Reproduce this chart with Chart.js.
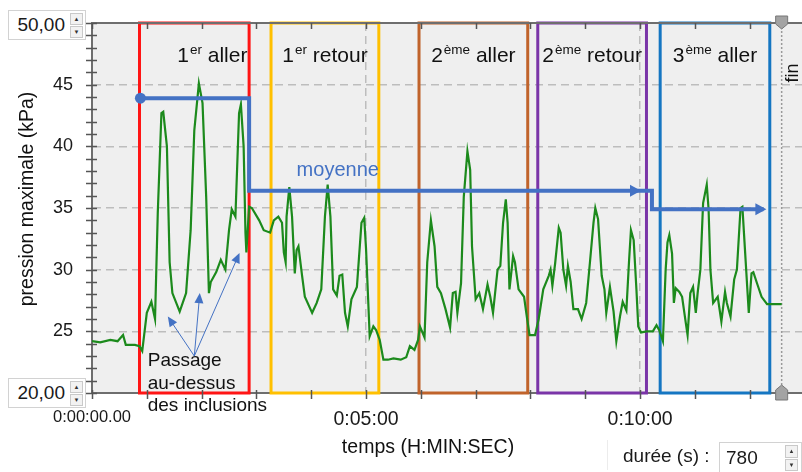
<!DOCTYPE html>
<html lang="fr">
<head>
<meta charset="utf-8">
<title>pression maximale</title>
<script src="https://cdn.jsdelivr.net/npm/chart.js@4.4.0/dist/chart.umd.min.js"></script>
<style>
html, body { margin: 0; padding: 0; background: #fff; overflow: hidden; }
#wrap { position: relative; width: 802px; height: 472px; overflow: hidden; }
#chart { position: absolute; left: 0; top: 0; }
.spin { position: absolute; height: 30px; background: #fff; border: 1px solid #d2d2d2; box-sizing: border-box;
        font: 19px 'Liberation Sans', Arial, sans-serif; color: #1a1a1a; }
.spin .val { position: absolute; right: 20px; top: 50%; transform: translateY(-50%); }
.spin .btns { position: absolute; right: 2px; top: 2px; bottom: 2px; width: 13px; display: flex; flex-direction: column; gap: 1px; }
.spin .btns div { flex: 1; background: #f2f2f2; border: 1px solid #c9c9c9; font-size: 6px; line-height: 10px; text-align: center; color: #333; }
#duree { position: absolute; left: 623px; top: 445px; font: 19px 'Liberation Sans', Arial, sans-serif; color: #1a1a1a; }
#sep { position: absolute; left: 607px; top: 440px; width: 1px; height: 30px; background: #ececec; }
</style>
</head>
<body>
<div id="wrap">
  <canvas id="chart" width="810" height="472" style="width:810px;height:472px"></canvas>
  <div class="spin" style="left:8px;top:10px;width:78px"><span class="val">50,00</span><div class="btns"><div>▲</div><div>▼</div></div></div>
  <div class="spin" style="left:8px;top:378px;width:78px"><span class="val">20,00</span><div class="btns"><div>▲</div><div>▼</div></div></div>
  <div id="sep"></div>
  <div id="duree">durée (s) :</div>
  <div class="spin" style="left:719px;top:442px;width:83px;height:32px"><span class="val" style="left:6px;right:auto">780</span><div class="btns" style="right:3px"><div>▲</div><div>▼</div></div></div>
</div>
<script>
const FONT = "'Liberation Sans', Arial, sans-serif";

// temps (s) et pression maximale (kPa)
const temps = [
  0, 9, 20, 28, 34, 37, 47, 52, 55, 60, 65, 69, 72, 76, 78, 82, 85, 88, 96, 103,
  108, 112, 117, 121, 125, 128, 130, 136, 141, 146, 150, 153, 157, 161, 163, 166, 168, 169, 172, 175,
  183, 188, 195, 199, 204, 208, 210, 212, 213, 216, 219, 222, 224, 226, 230, 233, 241, 246, 251, 255,
  258, 261, 264, 268, 271, 274, 277, 280, 284, 290, 295, 298, 300, 304, 308, 311, 315, 319, 324, 330,
  338, 344, 348, 353, 357, 359, 364, 367, 371, 375, 378, 382, 387, 392, 395, 398, 400, 404, 407, 411,
  414, 416, 420, 424, 428, 433, 436, 439, 444, 447, 450, 453, 455, 457, 461, 463, 467, 473, 476, 479,
  485, 489, 494, 500, 502, 504, 507, 511, 513, 516, 519, 521, 524, 527, 532, 536, 541, 545, 549, 551,
  554, 558, 561, 563, 567, 571, 574, 578, 581, 585, 588, 590, 593, 596, 598, 601, 607, 614, 618, 621,
  625, 628, 630, 632, 635, 637, 639, 643, 646, 650, 652, 655, 658, 661, 663, 666, 669, 673, 675, 677,
  680, 685, 689, 693, 695, 699, 703, 706, 710, 712, 715, 719, 722, 724, 728, 733, 739, 748, 755
];
const pression = [
  24.2, 24.1, 24.3, 24.2, 24.7, 23.9, 23.9, 23.8, 23.4, 26.5, 27.4, 26.0, 34.6, 42.7, 42.8, 40.0, 30.6, 28.1, 26.6, 28.1,
  33.2, 41.3, 45.1, 43.5, 35.9, 28.1, 29.0, 29.8, 30.8, 30.0, 33.2, 34.9, 34.3, 42.7, 43.4, 40.0, 33.0, 31.4, 35.1, 35.0,
  34.0, 33.2, 33.0, 34.0, 34.3, 33.8, 31.4, 30.6, 34.3, 36.7, 34.3, 29.7, 31.6, 31.9, 29.5, 27.8, 26.5, 27.3, 28.4, 34.3,
  36.9, 34.3, 28.4, 27.9, 29.5, 29.6, 26.5, 25.4, 27.6, 28.6, 33.8, 34.2, 31.7, 24.6, 25.4, 25.1, 24.3, 22.7, 22.7, 22.8,
  22.7, 22.9, 23.8, 23.5, 24.3, 25.4, 24.5, 30.6, 34.0, 31.9, 28.6, 28.1, 26.8, 25.3, 28.1, 28.2, 26.5, 28.9, 35.9, 39.6,
  38.1, 31.9, 27.6, 28.1, 26.8, 28.8, 27.8, 26.5, 30.0, 30.3, 33.8, 35.7, 33.8, 28.4, 31.1, 30.6, 28.4, 27.8, 26.2, 24.7,
  24.7, 26.0, 28.4, 29.5, 30.0, 28.7, 30.5, 33.4, 33.0, 30.0, 28.7, 30.3, 29.0, 26.8, 26.8, 26.0, 27.3, 30.5, 33.8, 35.0,
  34.1, 29.5, 28.4, 26.5, 28.6, 26.6, 24.2, 26.2, 27.4, 26.7, 30.8, 33.2, 32.4, 28.4, 25.4, 24.9, 25.0, 25.0, 25.5, 25.1,
  24.2, 30.0, 32.2, 32.8, 31.3, 27.3, 28.5, 28.2, 27.8, 25.7, 24.7, 28.1, 28.6, 26.5, 28.1, 30.0, 35.4, 36.9, 34.9, 30.0,
  27.3, 27.8, 25.8, 28.2, 27.3, 26.2, 29.2, 30.0, 35.0, 35.1, 31.4, 26.5, 29.7, 29.8, 28.9, 27.8, 27.2, 27.2, 27.2
];

// moyenne par groupe de passages
const moyenneT = [53, 172, 172, 613, 613, 735];
const moyenneP = [43.9, 43.9, 36.4, 36.4, 34.9, 34.9];
const moyenneFlecheT = 601;

// passages (cadres)
const passageDebut = [52, 196, 358, 488, 622];
const passageFin = [172, 314, 477, 607, 742];
const passageNum = ['1', '1', '2', '2', '3'];
const passageSup = ['er', 'er', 'ème', 'ème', 'ème'];
const passageNom = ['aller', 'retour', 'aller', 'retour', 'aller'];
const passageCouleur = ['#ff1414', '#ffc000', '#c0632b', '#7a35a8', '#1576c2'];

// annotation "Passage au-dessus des inclusions"
const noteOrigine = [112, 23.0];
const noteCibles = [[83, 26.2], [118, 28.1], [161.5, 31.35]];
const noteTexte = ['Passage', 'au-dessus', 'des inclusions'];
const noteAncre = [61, 22.15];

// axes
const yMin = 20, yMax = 50;
const xMin = 0, xMax = 780, xPas = 60;
const xLabelVal = [0, 300, 600];
const xLabelTxt = ['0:00:00.00', '0:05:00', '0:10:00'];
const finT = 755;
const moyenneTexte = [224, 37.6];

const BLEU = '#4472c4';

function arrowHead(ctx, x, y, ang, len, half, color) {
  ctx.save();
  ctx.translate(x, y);
  ctx.rotate(ang);
  ctx.beginPath();
  ctx.moveTo(0, 0);
  ctx.lineTo(-len, -half);
  ctx.lineTo(-len, half);
  ctx.closePath();
  ctx.fillStyle = color;
  ctx.fill();
  ctx.restore();
}

// pas de marge automatique autour de la zone de tracé
function noPadding(s) {
  s.paddingLeft = 0;
  s.paddingRight = 0;
  s.paddingTop = 0;
  s.paddingBottom = 0;
}

const decor = {
  id: 'decor',
  beforeDraw(chart) {
    const { ctx, chartArea: a } = chart;
    ctx.save();
    ctx.fillStyle = '#efefef';
    ctx.fillRect(a.left, a.top, a.right - a.left, a.bottom - a.top);
    ctx.restore();
  },
  beforeDatasetsDraw(chart) {
    const { ctx, chartArea: a, scales: { x } } = chart;
    ctx.save();
    // ligne "fin"
    const fx = x.getPixelForValue(finT);
    ctx.strokeStyle = '#9a9a9a';
    ctx.lineWidth = 1.5;
    ctx.setLineDash([2, 2]);
    ctx.beginPath();
    ctx.moveTo(fx, a.top);
    ctx.lineTo(fx, a.bottom);
    ctx.stroke();
    ctx.setLineDash([]);
    // cadres des passages
    ctx.lineWidth = 3;
    passageDebut.forEach((d, i) => {
      const x1 = x.getPixelForValue(d), x2 = x.getPixelForValue(passageFin[i]);
      ctx.strokeStyle = passageCouleur[i];
      ctx.strokeRect(x1, a.top, x2 - x1, a.bottom - a.top);
    });
    ctx.restore();
  },
  afterDatasetsDraw(chart) {
    const { ctx, chartArea: a, scales: { x, y } } = chart;
    ctx.save();
    // flèches de la moyenne
    const n = moyenneT.length - 1;
    arrowHead(ctx, x.getPixelForValue(moyenneT[n]) + 3, y.getPixelForValue(moyenneP[n]), 0, 11, 6, BLEU);
    arrowHead(ctx, x.getPixelForValue(moyenneFlecheT), y.getPixelForValue(moyenneP[2]), 0, 11, 6, BLEU);
    ctx.fillStyle = BLEU;
    ctx.font = '20px ' + FONT;
    ctx.textAlign = 'left';
    ctx.textBaseline = 'alphabetic';
    ctx.fillText('moyenne', x.getPixelForValue(moyenneTexte[0]), y.getPixelForValue(moyenneTexte[1]));

    // annotation
    const ox = x.getPixelForValue(noteOrigine[0]), oy = y.getPixelForValue(noteOrigine[1]);
    ctx.strokeStyle = BLEU;
    ctx.lineWidth = 1;
    noteCibles.forEach(([t, v]) => {
      const tx = x.getPixelForValue(t), ty = y.getPixelForValue(v);
      const ang = Math.atan2(ty - oy, tx - ox);
      ctx.beginPath();
      ctx.moveTo(ox, oy);
      ctx.lineTo(tx - 8 * Math.cos(ang), ty - 8 * Math.sin(ang));
      ctx.stroke();
      arrowHead(ctx, tx, ty, ang, 10, 4.5, BLEU);
    });
    ctx.fillStyle = '#111';
    ctx.font = '19px ' + FONT;
    const nx = x.getPixelForValue(noteAncre[0]), ny = y.getPixelForValue(noteAncre[1]);
    noteTexte.forEach((s, i) => ctx.fillText(s, nx, ny + i * 22.5));

    // titres des passages
    passageDebut.forEach((d, i) => {
      const x1 = x.getPixelForValue(d), x2 = x.getPixelForValue(passageFin[i]);
      ctx.font = '21px ' + FONT;
      const w1 = ctx.measureText(passageNum[i]).width;
      const w3 = ctx.measureText(' ' + passageNom[i]).width;
      ctx.font = '13.5px ' + FONT;
      const w2 = ctx.measureText(passageSup[i]).width + 1;
      let px = (x1 + x2) / 2 - (w1 + w2 + w3) / 2 + (i === 0 ? 18 : 0);
      const py = a.top + 39;
      ctx.fillStyle = '#111';
      ctx.font = '21px ' + FONT;
      ctx.fillText(passageNum[i], px, py);
      px += w1;
      ctx.font = '13.5px ' + FONT;
      ctx.fillText(passageSup[i], px + 1, py - 8);
      px += w2;
      ctx.font = '21px ' + FONT;
      ctx.fillText(' ' + passageNom[i], px, py);
    });
    ctx.restore();
  },
  afterDraw(chart) {
    const { ctx, chartArea: a, scales: { x, y } } = chart;
    ctx.save();
    // bord haut
    ctx.strokeStyle = '#6e6e6e';
    ctx.lineWidth = 2;
    ctx.beginPath();
    ctx.moveTo(a.left, a.top);
    ctx.lineTo(a.right, a.top);
    ctx.stroke();
    // graduations
    ctx.strokeStyle = '#555';
    ctx.lineWidth = 1.5;
    ctx.beginPath();
    for (let v = yMin; v <= yMax; v++) {
      const py = Math.round(y.getPixelForValue(v)) + 0.5;
      ctx.moveTo(a.left - 6, py);
      ctx.lineTo(a.left + 5, py);
    }
    for (let t = xMin; t <= xMax; t += xPas) {
      const px = Math.round(x.getPixelForValue(t)) + 0.5;
      ctx.moveTo(px, a.bottom - 3);
      ctx.lineTo(px, a.bottom + 6);
      ctx.moveTo(px, a.top);
      ctx.lineTo(px, a.top + 6);
    }
    ctx.stroke();

    // repères "fin"
    const fx = x.getPixelForValue(finT);
    ctx.fillStyle = '#a3a3a3';
    ctx.strokeStyle = '#777';
    ctx.lineWidth = 1;
    ctx.beginPath();
    ctx.moveTo(fx - 6, a.top - 7); ctx.lineTo(fx + 6, a.top - 7); ctx.lineTo(fx + 6, a.top + 1);
    ctx.lineTo(fx, a.top + 6); ctx.lineTo(fx - 6, a.top + 1); ctx.closePath();
    ctx.fill(); ctx.stroke();
    ctx.beginPath();
    ctx.moveTo(fx, a.bottom - 8); ctx.lineTo(fx + 6, a.bottom - 3); ctx.lineTo(fx + 6, a.bottom + 7);
    ctx.lineTo(fx - 6, a.bottom + 7); ctx.lineTo(fx - 6, a.bottom - 3); ctx.closePath();
    ctx.fill(); ctx.stroke();
    ctx.fillStyle = '#111';
    ctx.font = '18px ' + FONT;
    ctx.translate(fx + 16, a.top + 50);
    ctx.rotate(-Math.PI / 2);
    ctx.textAlign = 'center';
    ctx.textBaseline = 'alphabetic';
    ctx.fillText('fin', 0, 0);
    ctx.restore();

    // titres des axes
    ctx.save();
    ctx.fillStyle = '#111';
    ctx.font = '19.5px ' + FONT;
    ctx.textAlign = 'center';
    ctx.textBaseline = 'alphabetic';
    ctx.fillText('temps (H:MIN:SEC)', 428, 453);
    ctx.translate(33, 199);
    ctx.rotate(-Math.PI / 2);
    ctx.fillText('pression maximale (kPa)', 0, 0);
    ctx.restore();
  }
};

const courbe = temps.map((t, i) => ({ x: t, y: pression[i] }));
const moyenne = moyenneT.map((t, i) => ({ x: t, y: moyenneP[i] }));

new Chart(document.getElementById('chart'), {
  type: 'line',
  data: {
    datasets: [
      {
        label: 'moyenne',
        data: moyenne,
        order: 0,
        borderColor: BLEU,
        borderWidth: 4,
        borderJoinStyle: 'miter',
        pointRadius: c => (c.dataIndex === 0 ? 5.5 : 0),
        pointBackgroundColor: BLEU,
        pointBorderWidth: 0,
        fill: false
      },
      {
        label: 'pression maximale',
        data: courbe,
        order: 1,
        borderColor: '#1c8a1c',
        borderWidth: 2.2,
        pointRadius: 0,
        tension: 0,
        fill: false
      }
    ]
  },
  options: {
    responsive: false,
    animation: false,
    devicePixelRatio: 1,
    layout: { padding: { top: 23, left: 0, right: 0, bottom: 0 } },
    plugins: { legend: { display: false }, tooltip: { enabled: false } },
    scales: {
      x: {
        type: 'linear',
        min: xMin,
        max: xMax,
        afterFit: s => { s.height = 79; noPadding(s); },
        grid: {
          drawTicks: false,
          lineWidth: 1.5,
          color: c => (c.tick && xLabelVal.indexOf(c.tick.value) > 0 ? '#bdbdbd' : 'rgba(0,0,0,0)')
        },
        border: { display: true, color: '#6e6e6e', width: 2, dash: [8, 5] },
        ticks: {
          stepSize: xPas,
          autoSkip: false,
          maxRotation: 0,
          minRotation: 0,
          padding: 15,
          color: '#1a1a1a',
          font: c => ({ family: FONT, size: c.tick && c.tick.value === 0 ? 16.5 : 19.5 }),
          callback: v => {
            const k = xLabelVal.indexOf(v);
            return k >= 0 ? xLabelTxt[k] : '';
          }
        }
      },
      y: {
        min: yMin,
        max: yMax,
        afterFit: s => { s.width = 92; noPadding(s); },
        grid: {
          drawTicks: false,
          lineWidth: 1.5,
          color: c => (c.tick && c.tick.value % 5 === 0 && c.tick.value > yMin && c.tick.value < yMax ? '#bdbdbd' : 'rgba(0,0,0,0)')
        },
        border: { display: true, color: '#6e6e6e', width: 2, dash: [8, 5] },
        ticks: {
          stepSize: 1,
          autoSkip: false,
          padding: 19,
          color: '#1a1a1a',
          font: { family: FONT, size: 18 },
          callback: v => (v % 5 === 0 && v > yMin && v < yMax ? String(v) : '')
        }
      }
    }
  },
  plugins: [decor]
});
</script>
</body>
</html>
